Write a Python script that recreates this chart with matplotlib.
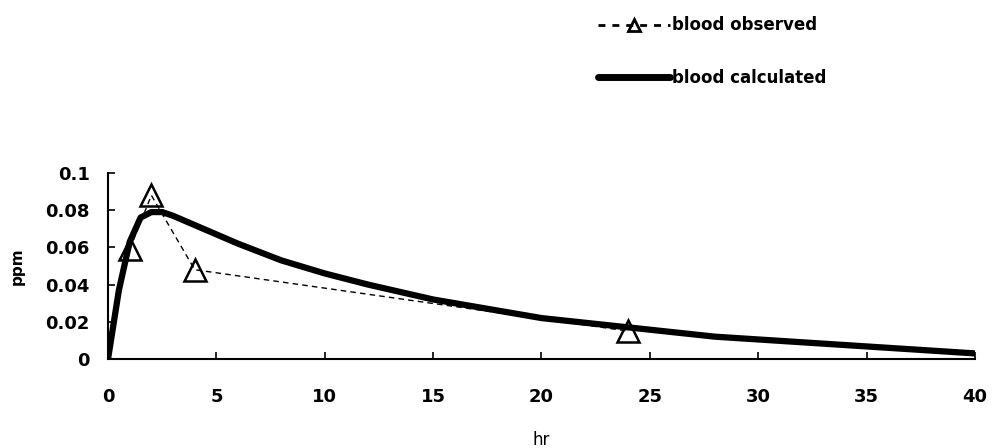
import matplotlib
matplotlib.use("Agg")
import matplotlib.pyplot as plt

plt.rcParams['font.family'] = ['DejaVu Sans']

# Observed blood concentrations
obs_hr = [1, 2, 4, 24]
obs_ppm = [0.059, 0.088, 0.048, 0.015]

# Model-calculated blood concentrations
calc_hr = [0, 0.5, 1, 1.5, 2, 2.5, 3, 4, 5, 6, 8, 10, 12, 15, 18, 20, 24, 28, 32, 36, 40]
calc_ppm = [0.0, 0.037, 0.063, 0.076, 0.079, 0.079, 0.077, 0.072, 0.067, 0.062,
            0.053, 0.046, 0.040, 0.032, 0.026, 0.022, 0.017, 0.012, 0.009, 0.006, 0.003]

x_ticks = [0, 5, 10, 15, 20, 25, 30, 35, 40]
y_ticks = [0, 0.02, 0.04, 0.06, 0.08, 0.1]
y_ticklabels = ["0", "0.02", "0.04", "0.06", "0.08", "0.1"]

fig = plt.figure(figsize=(9.93, 4.48), dpi=100)
ax = fig.add_axes([0.1088, 0.1987, 0.873, 0.4151])

ax.plot(obs_hr, obs_ppm, linestyle=(0, (4, 3)), color='black', linewidth=1.0,
        marker='^', markersize=16, markerfacecolor='none', markeredgecolor='black',
        markeredgewidth=1.8, zorder=2, label='blood observed')
ax.plot(calc_hr, calc_ppm, color='black', linewidth=4.5, solid_capstyle='round',
        zorder=3, label='blood calculated')

ax.set_xlim(0, 40)
ax.set_ylim(0, 0.1)
ax.set_xticks(x_ticks)
ax.set_xticklabels([str(t) for t in x_ticks])
ax.set_yticks(y_ticks)
ax.set_yticklabels(y_ticklabels)

for side in ('top', 'right'):
    ax.spines[side].set_visible(False)
for side in ('left', 'bottom'):
    ax.spines[side].set_linewidth(1.5)

ax.tick_params(axis='x', direction='in', length=5, width=1.2, pad=21, labelsize=13)
ax.tick_params(axis='y', direction='in', length=5, width=1.2, pad=13, labelsize=13)
for lab in ax.get_xticklabels() + ax.get_yticklabels():
    lab.set_fontweight('bold')

ax.set_xlabel('hr', fontsize=12, labelpad=18)
ax.set_ylabel('ppm', fontsize=11, fontweight='bold', labelpad=15)

leg = fig.legend(loc='upper left', bbox_to_anchor=(0.587, 0.997), frameon=False,
                 handlelength=4.3, handletextpad=0.15, labelspacing=2.05, numpoints=1,
                 prop={'size': 12, 'weight': 'bold'})
for h in leg.legend_handles:
    if h.get_marker() == '^':
        h.set_markersize(9)
        h.set_markeredgewidth(2)
        h.set_linewidth(2)
        h.set_linestyle((0, (2.5, 2.5)))
    else:
        h.set_linewidth(5)

fig.savefig('out.png', dpi=100)
